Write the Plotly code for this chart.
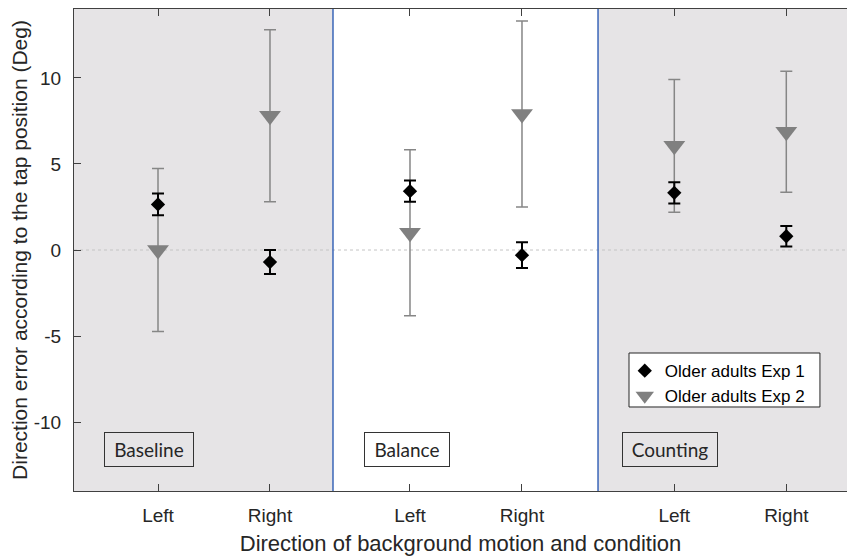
import plotly.graph_objects as go

# Six conditions: direction of background motion within each task condition
tick_labels = ["Left", "Right", "Left", "Right", "Left", "Right"]
positions = [1.0, 2.0, 3.25, 4.25, 5.61, 6.61]
conditions = ["Baseline", "Balance", "Counting"]
condition_label_x = [0.92, 3.22, 5.57]
condition_box_width = [78, 74, 84]

# Older adults, experiment 1 (mean and error)
exp1_mean = [2.65, -0.70, 3.42, -0.30, 3.32, 0.80]
exp1_err = [0.63, 0.70, 0.62, 0.75, 0.62, 0.60]

# Older adults, experiment 2 (mean and error)
exp2_mean = [0.0, 7.8, 1.0, 7.9, 6.05, 6.87]
exp2_err = [4.73, 5.0, 4.82, 5.4, 3.85, 3.51]

X_RANGE = [0.25, 7.152]
Y_RANGE = [-14, 14]
DIVIDERS = [2.5625, 4.929]

AXIS_FONT = "Liberation Sans, Arial, sans-serif"
TEXT_COLOR = "#262626"
SHADE = "#e6e4e6"

fig = go.Figure()

fig.add_trace(go.Scatter(
    x=positions, y=exp2_mean, mode="markers", name="Older adults Exp 2",
    marker=dict(symbol="triangle-down", size=19, color="#808080"),
    error_y=dict(type="data", array=exp2_err, symmetric=True,
                 color="#868686", thickness=1.5, width=6),
    legendrank=2,
))
fig.add_trace(go.Scatter(
    x=positions, y=exp1_mean, mode="markers", name="Older adults Exp 1",
    marker=dict(symbol="diamond", size=11, color="black"),
    error_y=dict(type="data", array=exp1_err, symmetric=True,
                 color="black", thickness=2, width=6),
    legendrank=1,
))

shapes = [
    # shaded Baseline and Counting panels
    dict(type="rect", xref="x", yref="y", x0=X_RANGE[0], x1=DIVIDERS[0],
         y0=Y_RANGE[0], y1=Y_RANGE[1], fillcolor=SHADE, line=dict(width=0), layer="below"),
    dict(type="rect", xref="x", yref="y", x0=DIVIDERS[1], x1=X_RANGE[1],
         y0=Y_RANGE[0], y1=Y_RANGE[1], fillcolor=SHADE, line=dict(width=0), layer="below"),
    # zero reference line
    dict(type="line", xref="x", yref="y", x0=X_RANGE[0], x1=X_RANGE[1], y0=0, y1=0,
         line=dict(color="#c4c4c4", width=1, dash="dot"), layer="below"),
    # legend frame
    dict(type="rect", xref="paper", yref="paper", x0=0.718, x1=0.965,
         y0=0.1743, y1=0.2863, fillcolor="white",
         line=dict(color="#262626", width=1), layer="above"),
]
for d in DIVIDERS:
    shapes.append(dict(type="line", xref="x", yref="y", x0=d, x1=d,
                       y0=Y_RANGE[0], y1=Y_RANGE[1],
                       line=dict(color="#3a66b8", width=1.5), layer="below"))

annotations = []
for label, xc, w in zip(conditions, condition_label_x, condition_box_width):
    annotations.append(dict(
        x=xc, y=-11.6, xref="x", yref="y", text=label, showarrow=False,
        font=dict(family="Lato, Calibri, sans-serif", size=19, color=TEXT_COLOR),
        width=w, height=23, align="center", valign="middle",
        bordercolor="#333333", borderwidth=1, borderpad=5,
        bgcolor="rgba(0,0,0,0)",
    ))

fig.update_layout(
    width=847, height=556,
    margin=dict(l=74, r=0, t=9, b=65),
    paper_bgcolor="white", plot_bgcolor="white",
    font=dict(family=AXIS_FONT, color=TEXT_COLOR),
    shapes=shapes, annotations=annotations,
    showlegend=True,
    legend=dict(x=0.7125, y=0.286, xanchor="left", yanchor="top",
                bgcolor="rgba(0,0,0,0)", borderwidth=0,
                font=dict(size=17, color="black"), tracegroupgap=0),
    xaxis=dict(range=X_RANGE, tickmode="array", tickvals=positions, ticktext=tick_labels,
               showgrid=False, zeroline=False, showline=True, linecolor="#404040",
               linewidth=1, mirror="ticks", ticks="inside", ticklen=7,
               tickcolor="#404040", tickfont=dict(size=19),
               ticklabelstandoff=7,
               title=dict(text="Direction of background motion and condition",
                          font=dict(size=22), standoff=10)),
    yaxis=dict(range=Y_RANGE, tickmode="array", tickvals=[-10, -5, 0, 5, 10],
               ticktext=["-10", "-5", "0", "5", "10"],
               showgrid=False, zeroline=False, showline=True, linecolor="#404040",
               linewidth=1, mirror=False, ticks="inside", ticklen=7,
               tickcolor="#404040", tickfont=dict(size=19),
               ticklabelstandoff=8,
               title=dict(text="Direction error according to the tap position (Deg)",
                          font=dict(size=21), standoff=0)),
)

fig.write_html("out.html")
